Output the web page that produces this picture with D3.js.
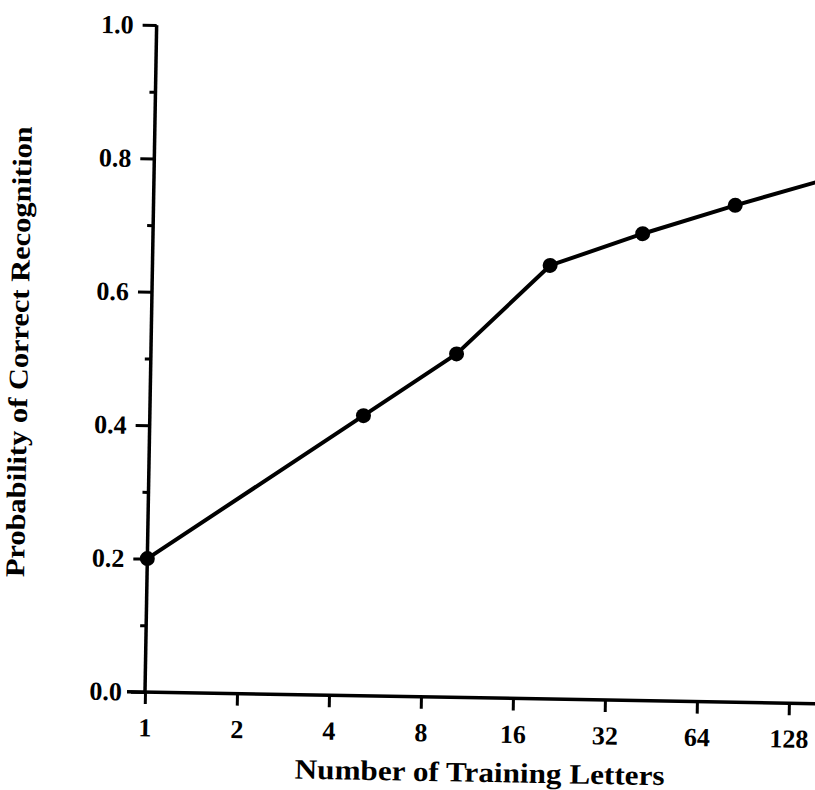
<!DOCTYPE html>
<html>
<head>
<meta charset="utf-8">
<script src="https://cdn.jsdelivr.net/npm/d3@7"></script>
<style>
  html, body { margin: 0; padding: 0; background: #fff; }
  svg { display: block; }
  text { font-family: "Liberation Serif", "Times New Roman", serif; font-weight: bold; fill: #000; }
</style>
</head>
<body>
<div id="chart"></div>
<script>
// training letters (x) and probability of correct recognition (y)
const trainingLetters = [1, 5, 10, 20, 40, 80, 160];
const recognition = [0.20, 0.42, 0.515, 0.65, 0.70, 0.745, 0.787];

const xTicks = [1, 2, 4, 8, 16, 32, 64, 128];
const yMajorTicks = [0.0, 0.2, 0.4, 0.6, 0.8, 1.0];
const yMinorTicks = [0.1, 0.3, 0.5, 0.7, 0.9];

const xTitle = "Number of Training Letters";
const yTitle = "Probability of Correct Recognition";

const width = 815, height = 790;
const origin = { x: 145, y: 692 };
const plotW = 644, plotH = 667;

const data = trainingLetters.map((d, i) => ({ x: d, y: recognition[i] }));

const svg = d3.select("#chart").append("svg")
    .attr("width", width)
    .attr("height", height);

// scanned figure sits a little skewed, so the whole plot is turned by ~1 degree
const g = svg.append("g")
    .attr("transform", `translate(${origin.x}, ${origin.y}) rotate(1)`);

const xScale = d3.scaleLog().base(2)
    .domain([1, 128])
    .range([0, plotW]);

const yScale = d3.scaleLinear()
    .domain([0, 1])
    .range([0, -plotH]);

// x axis
const xAxis = g.append("g")
    .call(d3.axisBottom(xScale)
        .tickValues(xTicks)
        .tickFormat(d3.format("d"))
        .tickSize(12)
        .tickPadding(14));
xAxis.select(".domain").remove();
xAxis.selectAll("line").attr("stroke", "#000").attr("stroke-width", 3);
xAxis.selectAll("text")
    .attr("font-family", null)
    .style("font-size", "26px");

g.append("line")
    .attr("x1", -18).attr("x2", 760)
    .attr("y1", 0).attr("y2", 0)
    .attr("stroke", "#000")
    .attr("stroke-width", 3.5);

// y axis
const yAxis = g.append("g")
    .call(d3.axisLeft(yScale)
        .tickValues(yMajorTicks)
        .tickFormat(d3.format(".1f"))
        .tickSize(14)
        .tickPadding(9));
yAxis.select(".domain").remove();
yAxis.selectAll("line").attr("stroke", "#000").attr("stroke-width", 3);
yAxis.selectAll("text")
    .style("font-size", "26px");

const yMinor = g.append("g")
    .call(d3.axisLeft(yScale)
        .tickValues(yMinorTicks)
        .tickFormat("")
        .tickSize(6));
yMinor.select(".domain").remove();
yMinor.selectAll("line").attr("stroke", "#000").attr("stroke-width", 3);

g.append("line")
    .attr("x1", 0).attr("x2", 0)
    .attr("y1", yScale(0)).attr("y2", yScale(1))
    .attr("stroke", "#000")
    .attr("stroke-width", 3.5);

// data line and markers
const line = d3.line()
    .x(d => xScale(d.x))
    .y(d => yScale(d.y));

g.append("path")
    .datum(data)
    .attr("d", line)
    .attr("fill", "none")
    .attr("stroke", "#000")
    .attr("stroke-width", 4)
    .attr("stroke-linejoin", "round");

g.append("g")
    .selectAll("circle")
    .data(data)
    .join("circle")
    .attr("cx", d => xScale(d.x))
    .attr("cy", d => yScale(d.y))
    .attr("r", 7.5)
    .attr("fill", "#000");

// titles
g.append("text")
    .attr("x", 336)
    .attr("y", 84)
    .attr("text-anchor", "middle")
    .attr("textLength", 370)
    .attr("lengthAdjust", "spacingAndGlyphs")
    .style("font-size", "28px")
    .text(xTitle);

g.append("text")
    .attr("transform", "translate(-123, -338) rotate(-90)")
    .attr("text-anchor", "middle")
    .attr("textLength", 451)
    .attr("lengthAdjust", "spacingAndGlyphs")
    .style("font-size", "27px")
    .text(yTitle);
</script>
</body>
</html>
